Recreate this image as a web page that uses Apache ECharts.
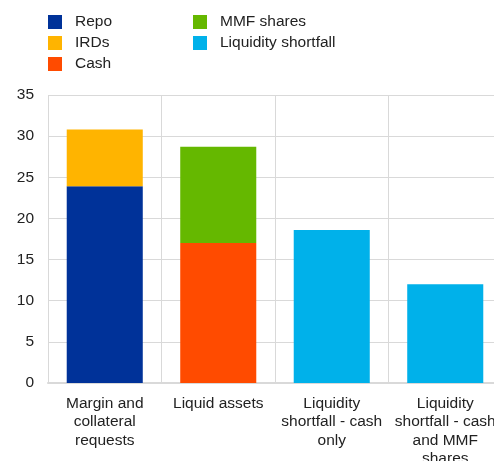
<!DOCTYPE html>
<html>
<head>
<meta charset="utf-8">
<script src="https://cdn.jsdelivr.net/npm/echarts@6/dist/echarts.min.js"></script>
<style>
  html, body { margin: 0; padding: 0; background: #fff; }
  #chart { width: 494px; height: 461px; }
</style>
</head>
<body>
<div id="chart"></div>
<script>
// categories on the x axis
var categories = [
  'Margin and\ncollateral\nrequests',
  'Liquid assets',
  'Liquidity\nshortfall - cash\nonly',
  'Liquidity\nshortfall - cash\nand MMF\nshares'
];
// stacked values, '-' = no bar in that column
var repo = [23.9, '-', '-', '-'];
var irds = [6.9, '-', '-', '-'];
var cash = ['-', 17.0, '-', '-'];
var mmfShares = ['-', 11.7, '-', '-'];
var liquidityShortfall = ['-', '-', 18.6, 12.0];
var yTicks = [0, 5, 10, 15, 20, 25, 30, 35];

var font = 'Liberation Sans, Arial, sans-serif';

function bar(name, data, color) {
  return {
    name: name,
    type: 'bar',
    stack: 'total',
    barWidth: '67%',
    data: data,
    itemStyle: { color: color },
    emphasis: { disabled: true }
  };
}

var chart = echarts.init(document.getElementById('chart'));
chart.setOption({
  animation: false,
  textStyle: { fontFamily: font },
  legend: [
    {
      data: ['Repo', 'IRDs', 'Cash'],
      orient: 'vertical',
      left: 43, top: 9,
      itemWidth: 14, itemHeight: 14, itemGap: 5,
      icon: 'rect',
      textStyle: { fontFamily: font, fontSize: 15.5, color: '#222', padding: [0, 0, 0, 8] }
    },
    {
      data: ['MMF shares', 'Liquidity shortfall'],
      orient: 'vertical',
      left: 188, top: 9,
      itemWidth: 14, itemHeight: 14, itemGap: 5,
      icon: 'rect',
      textStyle: { fontFamily: font, fontSize: 15.5, color: '#222', padding: [0, 0, 0, 8] }
    }
  ],
  grid: { left: 48, right: -8, top: 95, bottom: 78, containLabel: false, outerBoundsMode: 'none' },
  xAxis: {
    type: 'category',
    data: categories,
    axisLine: { show: true, lineStyle: { color: '#d9d9d9', width: 2 } },
    axisTick: { show: false },
    splitLine: { show: true, lineStyle: { color: '#d9d9d9', width: 1 } },
    axisLabel: {
      interval: 0,
      margin: 11,
      fontSize: 15.5,
      lineHeight: 18.5,
      color: '#222',
      fontFamily: font
    }
  },
  yAxis: {
    type: 'value',
    min: yTicks[0],
    max: yTicks[yTicks.length - 1],
    interval: 5,
    axisLine: { show: false },
    axisTick: { show: false },
    splitLine: { show: true, lineStyle: { color: '#d9d9d9', width: 1 } },
    axisLabel: { fontSize: 15.5, color: '#222', margin: 14, fontFamily: font }
  },
  series: [
    bar('Repo', repo, '#003299'),
    bar('IRDs', irds, '#ffb400'),
    bar('Cash', cash, '#ff4b00'),
    bar('MMF shares', mmfShares, '#65b800'),
    bar('Liquidity shortfall', liquidityShortfall, '#00b1ea')
  ]
});
</script>
</body>
</html>
